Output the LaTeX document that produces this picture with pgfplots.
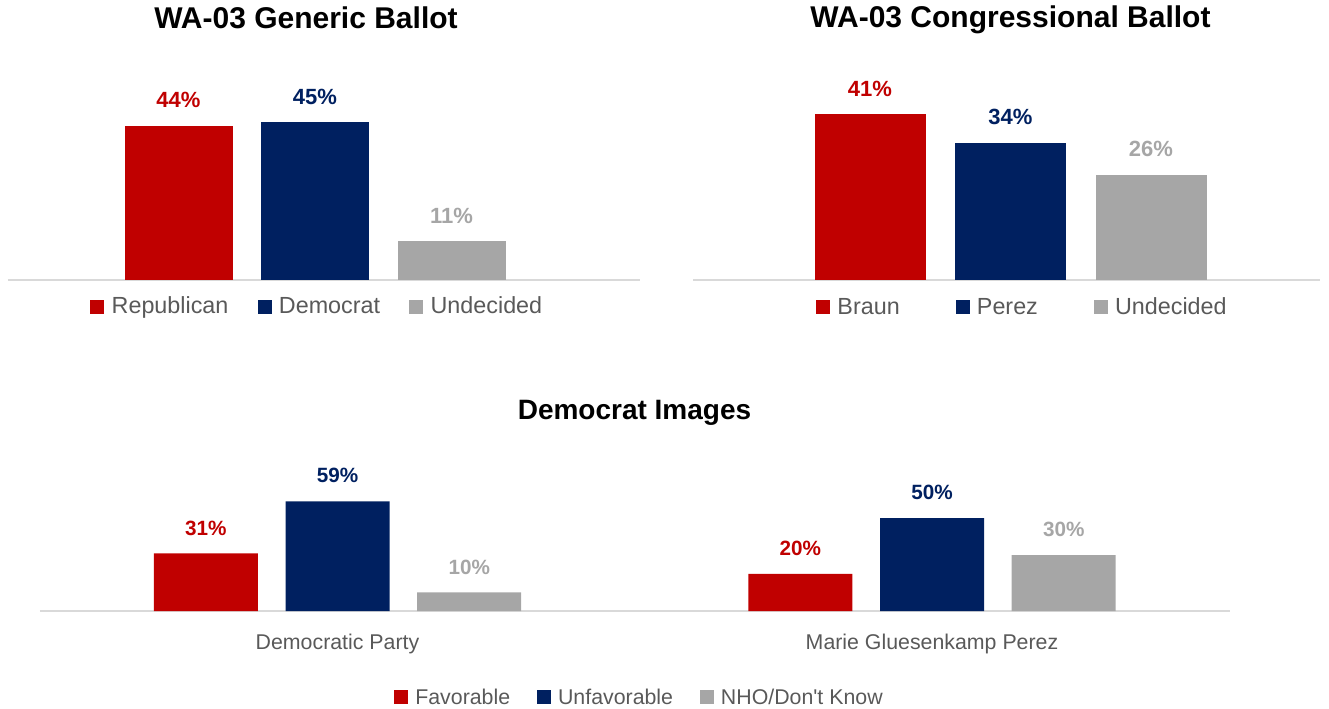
\documentclass[border=0pt]{standalone}
\usepackage{pgfplots}
\pgfplotsset{compat=1.18}
\usepackage{fontspec}
\setmainfont{Liberation Sans}
\definecolor{cRed}{HTML}{C00000}
\definecolor{cNavy}{HTML}{002060}
\definecolor{cGrey}{HTML}{A6A6A6}
\definecolor{cText}{HTML}{595959}
\definecolor{cLine}{HTML}{D9D9D9}
\pgfplotsset{
  ybar legend/.style={legend image code/.code={\fill[##1,draw=none] (0pt,-2.4pt) rectangle (10.4pt,8.0pt);}},
  poll/.style={
    scale only axis, clip=false,
    /pgf/number format/assume math mode=true,
    axis y line=none, axis x line*=bottom,
    x axis line style={-, draw=cLine, line width=1.5pt},
    ymin=0, major tick length=0pt,
    legend columns=-1,
    legend style={draw=none, fill=none, text=cText, anchor=center,
      nodes={text height=0.72em, text depth=0.22em},
      /tikz/every odd column/.append style={column sep=3.5pt},
      /tikz/every even column/.append style={column sep=19pt}},
    nodes near coords={\pgfmathprintnumber{\pgfplotspointmeta}\%},
    every node near coord/.append style={anchor=base, yshift=13.7pt},
    title style={anchor=base, font=\fontsize{22.5}{27}\selectfont\bfseries, text=black},
  },
}
\begin{document}
\begin{tikzpicture}
\path[use as bounding box] (0,0) rectangle (996.75pt,-531.75pt);

% ---------- top left ----------
\begin{axis}[poll, ybar=21.375pt, bar width=81pt,
  at={(6pt,-210pt)}, anchor=south west,
  width=474pt, height=131.25pt, xmin=8, xmax=640, ymax=50, xtick=\empty,
  title={WA-03 Generic Ballot}, title style={at={(0.4715,1.394)}},
  legend style={at={(0.49,-0.17)}, font=\fontsize{17.5}{20}\selectfont,
    /tikz/every even column/.append style={column sep=20pt}},
  every node near coord/.append style={font=\fontsize{16.5}{19}\selectfont\bfseries}]
\addplot[fill=cRed, draw=none, nodes near coords style={text=cRed}] coordinates {(315,44)};
\addplot[fill=cNavy, draw=none, nodes near coords style={text=cNavy}] coordinates {(315,45)};
\addplot[fill=cGrey, draw=none, nodes near coords style={text=cGrey}] coordinates {(315,11)};
\legend{Republican, Democrat, Undecided}
\end{axis}

% ---------- top right ----------
\begin{axis}[poll, ybar=22.125pt, bar width=83.25pt,
  at={(519.75pt,-210pt)}, anchor=south west,
  width=470.25pt, height=136.35pt, xmin=693, xmax=1320, ymax=45, xtick=\empty,
  title={WA-03 Congressional Ballot}, title style={at={(0.5064,1.343)}},
  legend style={at={(0.526,-0.164)}, font=\fontsize{17.5}{20}\selectfont,
    /tikz/every even column/.append style={column sep=40pt}},
  every node near coord/.append style={font=\fontsize{16.5}{19}\selectfont\bfseries}]
\addplot[fill=cRed, draw=none, nodes near coords style={text=cRed}] coordinates {(1010.5,41)};
\addplot[fill=cNavy, draw=none, nodes near coords style={text=cNavy}] coordinates {(1010.5,34)};
\addplot[fill=cGrey, draw=none, nodes near coords style={text=cGrey}] coordinates {(1010.5,26)};
\legend{Braun, Perez, Undecided}
\end{axis}

% ---------- bottom ----------
\begin{axis}[poll, ybar=20.8pt, bar width=78pt,
  at={(30pt,-458.25pt)}, anchor=south west,
  width=892.5pt, height=97.65pt, xmin=40, xmax=1230, ymax=70,
  xtick={337.5,932}, xticklabels={Democratic Party, Marie Gluesenkamp Perez},
  xticklabel style={anchor=base, yshift=-29pt, font=\fontsize{16}{19}\selectfont, text=cText},
  title={Democrat Images}, title style={at={(0.4996,1.406)}, font=\fontsize{21}{25}\selectfont\bfseries},
  legend style={at={(0.504,-0.685)}, font=\fontsize{16}{19}\selectfont,
    /tikz/every even column/.append style={column sep=18pt}},
  every node near coord/.append style={font=\fontsize{15.5}{18}\selectfont\bfseries}]
\addplot[fill=cRed, draw=none, nodes near coords style={text=cRed}] coordinates {(337.5,31) (932,20)};
\addplot[fill=cNavy, draw=none, nodes near coords style={text=cNavy}] coordinates {(337.5,59) (932,50)};
\addplot[fill=cGrey, draw=none, nodes near coords style={text=cGrey}] coordinates {(337.5,10) (932,30)};
\legend{Favorable, Unfavorable, NHO/Don\textquotesingle t Know}
\end{axis}
\end{tikzpicture}
\end{document}
